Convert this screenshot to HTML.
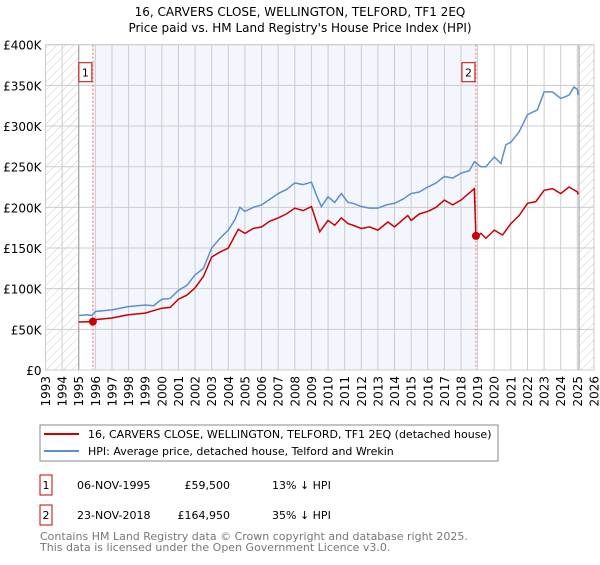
<!DOCTYPE html>
<html><head><meta charset="utf-8"><style>
body{margin:0;background:#fff;font-family:"Liberation Sans","DejaVu Sans",sans-serif;}
svg text{font-family:"DejaVu Sans","Liberation Sans",sans-serif;}
</style></head><body>
<svg id="c" width="600" height="560" viewBox="0 0 600 560" xmlns="http://www.w3.org/2000/svg">
<defs><pattern id="h" width="6" height="6" patternUnits="userSpaceOnUse" patternTransform="rotate(45)"><line x1="0" y1="0" x2="0" y2="6" stroke="#ccc" stroke-width="1"/></pattern></defs>
<text x="300" y="16" text-anchor="middle" font-size="12">16, CARVERS CLOSE, WELLINGTON, TELFORD, TF1 2EQ</text>
<text x="300" y="32" text-anchor="middle" font-size="12">Price paid vs. HM Land Registry's House Price Index (HPI)</text>
<g id="plot"></g>
<rect x="40" y="425" width="458" height="36" fill="#fff" stroke="#888"/>
<line x1="44" y1="434" x2="79" y2="434" stroke="#cc0000" stroke-width="2"/>
<text x="88" y="438" font-size="11">16, CARVERS CLOSE, WELLINGTON, TELFORD, TF1 2EQ (detached house)</text>
<line x1="44" y1="451" x2="79" y2="451" stroke="#5b8fd0" stroke-width="2"/>
<text x="88" y="455" font-size="11">HPI: Average price, detached house, Telford and Wrekin</text>
<rect x="40" y="475" width="12" height="20" fill="#fff" stroke="#cc0000"/>
<text x="46" y="489" text-anchor="middle" font-size="11">1</text>
<text x="77" y="489" font-size="11">06-NOV-1995</text>
<text x="230" y="489" text-anchor="end" font-size="11">£59,500</text>
<text x="272" y="489" font-size="11">13% ↓ HPI</text>
<rect x="40" y="505" width="12" height="20" fill="#fff" stroke="#cc0000"/>
<text x="46" y="519" text-anchor="middle" font-size="11">2</text>
<text x="77" y="519" font-size="11">23-NOV-2018</text>
<text x="230" y="519" text-anchor="end" font-size="11">£164,950</text>
<text x="272" y="519" font-size="11">35% ↓ HPI</text>
<text x="40" y="540" font-size="11" fill="#777">Contains HM Land Registry data © Crown copyright and database right 2025.</text>
<text x="40" y="551" font-size="11" fill="#777">This data is licensed under the Open Government Licence v3.0.</text>
</svg>
<script>
const yearTicks=[1993,1994,1995,1996,1997,1998,1999,2000,2001,2002,2003,2004,2005,2006,2007,2008,2009,2010,2011,2012,2013,2014,2015,2016,2017,2018,2019,2020,2021,2022,2023,2024,2025,2026];
const valueTicks=[0,50,100,150,200,250,300,350,400];
const valueLabels=["£0","£50K","£100K","£150K","£200K","£250K","£300K","£350K","£400K"];
const hpiYears=[1995,1995.5,1995.8,1996,1997,1998,1999,1999.5,2000,2000.5,2001,2001.5,2002,2002.5,2003,2003.5,2004,2004.4,2004.7,2005,2005.5,2006,2006.5,2007,2007.5,2008,2008.5,2009,2009.3,2009.6,2010,2010.4,2010.8,2011.2,2011.5,2012,2012.5,2013,2013.5,2014,2014.5,2015,2015.5,2016,2016.5,2017,2017.5,2018,2018.5,2018.8,2019.2,2019.5,2020,2020.4,2020.7,2021,2021.5,2022,2022.6,2023,2023.5,2024,2024.5,2024.8,2025,2025.05];
const hpiValues=[67,68,67,72,74,78,80,79,87,88,98,104,117,125,150,162,172,185,200,195,200,203,210,217,222,230,228,231,215,201,213,206,217,206,205,201,199,199,203,205,210,217,219,225,230,238,236,242,245,256,250,250,262,254,277,280,293,314,320,342,342,334,338,348,345,338];
const propYears=[1995,1995.85,1996,1997,1998,1999,2000,2000.5,2001,2001.5,2002,2002.5,2003,2003.5,2004,2004.6,2005,2005.5,2006,2006.5,2007,2007.5,2008,2008.5,2009,2009.5,2010,2010.4,2010.8,2011.2,2011.5,2012,2012.5,2013,2013.6,2014,2014.8,2015,2015.5,2016,2016.5,2017,2017.5,2018,2018.8,2018.9,2019.2,2019.5,2020,2020.5,2021,2021.5,2022,2022.5,2023,2023.5,2024,2024.5,2025,2025.05];
const propValues=[59,59.5,62,64,68,70,76,77,87,92,101,115,139,145,150,173,168,174,176,183,187,192,199,196,201,170,184,178,187,180,178,174,176,172,182,176,190,184,192,195,200,209,203,209,223,164,168,162,172,166,180,190,205,207,221,223,217,225,219,216];
const saleYears=[1995.85,2018.9];
const saleValues=[59.5,164.95];
const saleLabels=["1","2"];
const X=y=>45.5+(y-1993)*16.62, Y=v=>370-v*0.8132;
const NS="http://www.w3.org/2000/svg", g=document.getElementById('plot');
function mk(t,a,p){const e=document.createElementNS(NS,t);for(const k in a)e.setAttribute(k,a[k]);(p||g).appendChild(e);return e;}
let e;
e=mk('rect',{x:X(1993),y:Y(400),width:X(1995)-X(1993),height:Y(0)-Y(400),fill:'url(#h)'});


e=mk('rect',{x:X(2025.1),y:Y(400),width:X(2026)-X(2025.1),height:Y(0)-Y(400),fill:'url(#h)'});


e=mk('rect',{x:X(saleYears[0]),y:Y(400),width:X(saleYears[1])-X(saleYears[0]),height:Y(0)-Y(400),fill:'#f3f6fd'});


yearTicks.forEach(yr=>{
 e=mk('line',{x1:X(yr),x2:X(yr),y1:Y(400),y2:Y(0),stroke:'#ccc','stroke-width':1});
 
 
 e=mk('text',{x:0,y:0,'font-size':12,'text-anchor':'end',transform:`translate(${X(yr)+4.5},${Y(0)+6}) rotate(-90)`});
 e.textContent=yr;
 
 
});
valueTicks.forEach((v,i)=>{
 e=mk('line',{x1:X(1993),x2:X(2026),y1:Y(v),y2:Y(v),stroke:'#ccc','stroke-width':1});
 
 
 e=mk('text',{x:X(1993)-4,y:Y(v)+5,'font-size':12,'text-anchor':'end'});
 e.textContent=valueLabels[i];
 
 
});
e=mk('line',{x1:X(1995),x2:X(1995),y1:Y(400),y2:Y(0),stroke:'#999','stroke-width':1});


e=mk('line',{x1:X(2025.1),x2:X(2025.1),y1:Y(400),y2:Y(0),stroke:'#999','stroke-width':1});


saleYears.forEach((yr,i)=>{
 e=mk('line',{x1:X(yr),x2:X(yr),y1:Y(400),y2:Y(0),stroke:'#e66','stroke-width':1,'stroke-dasharray':'2,2'});
 
 
 e=mk('rect',{x:X(yr)-14,y:Y(400)+18,width:13,height:19,fill:'#fff',stroke:'#cc0000'});
 
 
 e=mk('text',{x:X(yr)-7.5,y:Y(400)+32,'font-size':11,'text-anchor':'middle'});
 e.textContent=saleLabels[i];
 
 
});
e=mk('polyline',{points:hpiYears.map((y,i)=>X(y)+','+Y(hpiValues[i])).join(' '),fill:'none',stroke:'#5b8fd0','stroke-width':1.5});


e=mk('polyline',{points:propYears.map((y,i)=>X(y)+','+Y(propValues[i])).join(' '),fill:'none',stroke:'#cc0000','stroke-width':1.5});


saleYears.forEach((yr,i)=>{
 e=mk('circle',{cx:X(yr),cy:Y(saleValues[i]),r:4,fill:'#cc0000'});
 
 
});
e=mk('rect',{x:X(1993),y:Y(400),width:X(2026)-X(1993),height:Y(0)-Y(400),fill:'none',stroke:'#ccc'});


</script>
</body></html>
